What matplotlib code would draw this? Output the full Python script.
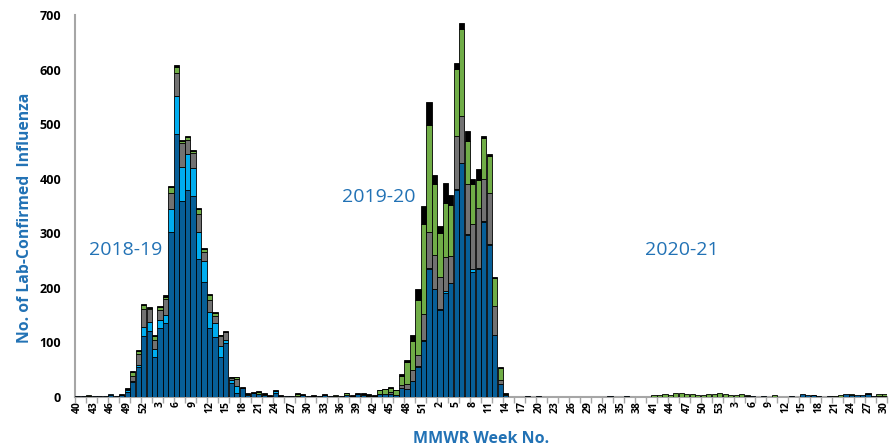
import matplotlib
matplotlib.use("Agg")
import matplotlib.pyplot as plt
import numpy as np

plt.rcParams['font.family'] = ['Open Sans', 'DejaVu Sans']

# MMWR weeks: 2018 w40 .. 2021 w30
WEEKS = [*range(40, 53), *range(1, 53), *range(1, 54), *range(1, 31)]

# Stacked series (bottom -> top)
A_H1 = [1, 1, 1, 2, 1, 1, 4, 1, 4, 9,
        27, 55, 112, 121, 73, 127, 135, 302, 482, 360,
        380, 368, 252, 210, 127, 110, 73, 99, 25, 8,
        16, 3, 7, 6, 3, 2, 8, 2, 1, 1,
        2, 4, 1, 2, 1, 4, 1, 1, 1, 3,
        2, 6, 4, 1, 2, 5, 5, 6, 3, 17,
        14, 29, 55, 103, 235, 197, 159, 191, 208, 380,
        428, 296, 229, 235, 321, 279, 114, 23, 3, 0,
        0, 0, 1, 0, 1, 0, 0, 0, 0, 0,
        0, 0, 0, 0, 0, 0, 0, 1, 0, 0,
        1, 0, 0, 0, 0, 0, 0, 0, 0, 0,
        0, 0, 0, 0, 0, 0, 0, 0, 0, 0,
        0, 0, 2, 1, 0, 1, 0, 0, 0, 0,
        1, 0, 5, 3, 3, 1, 0, 1, 0, 0,
        5, 4, 4, 3, 5, 1, 1, 1]

A_H3 = [0, 0, 0, 0, 0, 0, 1, 0, 0, 3,
        3, 3, 17, 17, 15, 15, 16, 42, 69, 62,
        65, 52, 51, 39, 29, 26, 20, 6, 7, 13,
        1, 0, 1, 0, 0, 0, 3, 0, 0, 0,
        0, 0, 0, 0, 0, 0, 0, 0, 0, 0,
        0, 0, 0, 0, 0, 0, 0, 0, 0, 0,
        1, 1, 1, 1, 1, 1, 2, 4, 1, 2,
        1, 2, 6, 1, 1, 1, 0, 0, 0, 0,
        0, 0, 0, 0, 0, 0, 0, 0, 0, 0,
        0, 0, 0, 0, 0, 0, 0, 0, 0, 0,
        0, 0, 0, 0, 0, 0, 0, 0, 0, 0,
        0, 0, 0, 0, 0, 0, 0, 0, 0, 0,
        0, 0, 0, 0, 0, 0, 0, 0, 0, 0,
        0, 0, 0, 0, 0, 0, 0, 0, 0, 0,
        0, 0, 0, 0, 0, 0, 0, 0]

A_UNSUB = [0, 0, 0, 0, 0, 0, 0, 0, 0, 3,
           9, 20, 32, 23, 16, 18, 29, 30, 42, 43,
           26, 28, 33, 17, 21, 13, 18, 14, 3, 12,
           0, 0, 0, 0, 0, 0, 0, 0, 0, 0,
           0, 0, 0, 0, 0, 0, 0, 0, 0, 0,
           0, 0, 0, 0, 0, 1, 0, 3, 0, 5,
           9, 19, 21, 48, 67, 63, 59, 61, 50, 97,
           86, 93, 82, 110, 77, 93, 52, 9, 0, 0,
           0, 0, 0, 0, 0, 0, 0, 0, 0, 0,
           0, 0, 0, 0, 0, 0, 0, 0, 0, 0,
           0, 0, 0, 0, 0, 0, 0, 0, 0, 0,
           0, 0, 0, 0, 0, 0, 0, 0, 0, 0,
           0, 0, 0, 0, 0, 0, 0, 0, 0, 0,
           0, 0, 0, 0, 0, 0, 0, 0, 0, 0,
           0, 0, 0, 0, 0, 0, 0, 0]

B = [0, 0, 2, 0, 0, 0, 0, 0, 0, 0,
     7, 7, 8, 3, 8, 5, 4, 11, 12, 4,
     6, 3, 9, 6, 9, 5, 2, 1, 1, 3,
     0, 3, 0, 4, 3, 0, 0, 0, 0, 0,
     4, 0, 0, 0, 0, 0, 0, 3, 0, 4,
     0, 0, 2, 3, 0, 6, 9, 8, 9, 17,
     40, 54, 101, 165, 195, 130, 81, 100, 93, 122,
     160, 79, 73, 52, 75, 68, 52, 21, 3, 0,
     0, 0, 0, 0, 0, 0, 0, 0, 0, 0,
     0, 0, 0, 0, 0, 0, 0, 0, 0, 0,
     0, 0, 0, 0, 0, 4, 4, 6, 4, 7,
     7, 5, 6, 3, 4, 5, 5, 8, 6, 3,
     4, 6, 1, 0, 0, 0, 0, 4, 0, 0,
     0, 0, 0, 0, 0, 0, 0, 0, 2, 3,
     0, 1, 0, 0, 0, 0, 5, 5]

UNKNOWN = [0, 0, 0, 0, 0, 0, 0, 0, 1, 2,
           1, 1, 1, 1, 1, 1, 2, 1, 4, 2,
           2, 1, 2, 1, 2, 1, 1, 1, 1, 1,
           1, 1, 1, 1, 1, 1, 1, 1, 0, 0,
           1, 1, 0, 1, 0, 1, 0, 0, 0, 1,
           1, 2, 1, 1, 1, 1, 1, 1, 1, 3,
           3, 11, 20, 33, 42, 16, 12, 37, 19, 11,
           10, 18, 9, 19, 5, 5, 1, 2, 1, 0,
           0, 0, 0, 0, 0, 0, 0, 0, 0, 0,
           0, 0, 0, 0, 0, 0, 0, 0, 0, 0,
           0, 0, 0, 0, 0, 0, 0, 0, 0, 0,
           0, 0, 0, 0, 0, 0, 0, 0, 0, 0,
           0, 0, 0, 0, 0, 0, 0, 0, 0, 0,
           0, 0, 0, 0, 1, 0, 0, 0, 0, 0,
           0, 0, 0, 0, 2, 0, 0, 0]

SERIES = [A_H1, A_H3, A_UNSUB, B, UNKNOWN]
COLORS = ['#075f98', '#00adef', '#727272', '#70ad47', '#000000']

SEASONS = ['2018-19', '2019-20', '2020-21']
SEASON_POS = [(2.0, 269), (48.2, 366), (103.3, 269)]

BLUE = '#2272b5'

fig = plt.figure(figsize=(8.94, 4.48), dpi=100)
ax = fig.add_axes([75.0 / 894, 51 / 448, (887.2 - 75.0) / 894, 382 / 448])

x = np.arange(len(WEEKS))
bottom = np.zeros(len(WEEKS))
for vals, col in zip(SERIES, COLORS):
    v = np.array(vals, dtype=float)
    ec = ['black' if h > 0 else 'none' for h in v]
    ax.bar(x, v, bottom=bottom, width=0.94, color=col, edgecolor=ec,
           linewidth=0.6, zorder=3)
    bottom += v

ax.set_xlim(-0.5, len(WEEKS) - 0.5)
ax.set_ylim(0, 700)

for s in ['top', 'right']:
    ax.spines[s].set_visible(False)
for s in ['left', 'bottom']:
    ax.spines[s].set_color('#a6a6a6')
    ax.spines[s].set_linewidth(1.5)

ax.set_yticks(range(0, 701, 100))
ax.tick_params(axis='y', length=0, pad=10, labelsize=9)
for t in ax.get_yticklabels():
    t.set_fontweight('bold')

major = list(range(0, len(WEEKS), 3))
ax.set_xticks(major)
ax.set_xticklabels([str(WEEKS[i]) for i in major], rotation=90,
                   fontsize=7.5, fontweight='bold')
ax.set_xticks(np.arange(-0.5, len(WEEKS), 2), minor=True)
ax.tick_params(axis='x', which='major', length=0, pad=3)
ax.tick_params(axis='x', which='minor', length=4, color='#a6a6a6', width=1)

ax.set_ylabel('No. of Lab-Confirmed  Influenza', fontsize=11.3,
              fontweight='bold', color=BLUE)
ax.yaxis.set_label_coords(-0.052, 0.47)
ax.set_xlabel('MMWR Week No.', fontsize=11.5, fontweight='bold', color=BLUE,
              labelpad=13)

for name, (sx, sy) in zip(SEASONS, SEASON_POS):
    ax.text(sx, sy, name, fontsize=14, color=BLUE, ha='left', va='center')

fig.savefig('out.png', dpi=100)
